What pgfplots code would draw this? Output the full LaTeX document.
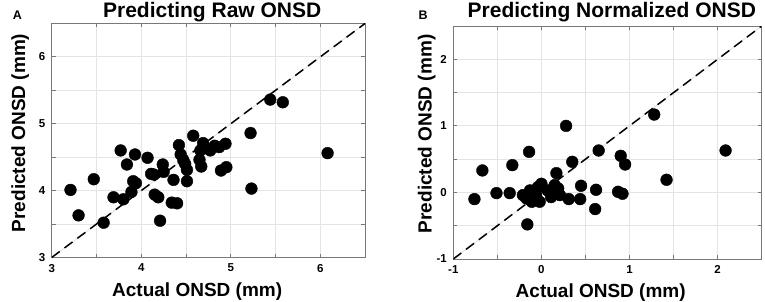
\documentclass[border=0pt]{standalone}
\usepackage{pgfplots}
\pgfplotsset{compat=1.18}
\usepackage{fontspec}
\setmainfont{Liberation Sans}
\definecolor{gridc}{RGB}{228,228,228}
\definecolor{axc}{RGB}{120,120,120}
\pgfplotsset{
  every axis title shift=0pt,
  myax/.style={
    scale only axis,
    axis line style={axc, line width=0.9pt},
    tick style={axc, line width=0.9pt},
    major tick length=4pt, minor tick length=4pt,
    grid=both,
    major grid style={gridc, line width=0.8pt},
    minor grid style={gridc, line width=0.8pt},
    /pgf/number format/assume math mode=true,
    ticklabel style={font=\fontsize{11.5}{13}\selectfont\bfseries},
    xticklabel style={yshift=-3pt},
    yticklabel style={xshift=-3pt},
    label style={font=\fontsize{19}{22}\selectfont\bfseries},
    title style={font=\fontsize{21}{24}\selectfont\bfseries, anchor=base, inner sep=0pt, yshift=0pt},
    clip=true,
  },
  dots/.style={only marks, mark=*, mark size=5.9pt, mark options={fill=black, draw=black}},
}
\begin{document}
\begin{tikzpicture}
\useasboundingbox (0pt,0pt) rectangle (765pt,-301pt);
\node[anchor=base west, inner sep=0pt, font=\fontsize{12.5}{14}\selectfont\bfseries] at (12.7pt,-19.3pt) {A};
\node[anchor=base west, inner sep=0pt, font=\fontsize{12.5}{14}\selectfont\bfseries] at (418.3pt,-19.3pt) {B};
\begin{axis}[myax,
  at={(51.7pt,-257.5pt)}, anchor=south west,
  width=313.5pt, height=234.2pt,
  xmin=3, xmax=6.5, ymin=3, ymax=6.5,
  xtick={3,4,5,6}, minor xtick={3.5,4.5,5.5},
  ytick={3,4,5,6}, minor ytick={3.5,4.5,5.5},
  title={Predicting Raw ONSD},
  title style={at={(axis description cs:0.512,1.0256)}},
  xlabel={Actual ONSD (mm)},
  ylabel={Predicted ONSD (mm)},
  xlabel style={at={(axis description cs:0.464,-0.1655)}, anchor=base, inner sep=0pt},
  ylabel style={at={(axis description cs:-0.085,0.532)}, anchor=base, inner sep=0pt},
]
\addplot[gray!30, line width=0.6pt] coordinates {(3,3) (6.5,6.5)};
\addplot[black, line width=1.5pt, dash pattern=on 10pt off 6pt] coordinates {(3,3) (6.5,6.5)};
\addplot[dots] coordinates {
(3.21,4.01) (3.30,3.63) (3.47,4.17) (3.58,3.52) (3.69,3.90) (3.77,4.60)
(3.80,3.87) (3.84,4.39) (3.89,3.98) (3.93,4.54) (3.91,4.14) (3.94,4.11)
(4.07,4.49) (4.11,4.25) (4.14,4.24) (4.15,3.94) (4.19,3.90) (4.24,4.39)
(4.25,4.28) (4.21,3.55) (4.36,4.16) (4.34,3.82) (4.40,3.81) (4.42,4.68)
(4.44,4.54) (4.47,4.45) (4.49,4.40) (4.51,4.31) (4.51,4.14) (4.58,4.82)
(4.65,4.46) (4.67,4.36) (4.69,4.71) (4.71,4.65) (4.66,4.60) (4.77,4.60)
(4.82,4.67) (4.87,4.65) (4.89,4.30) (4.94,4.70) (4.95,4.35) (5.22,4.86)
(5.23,4.03) (5.44,5.36) (5.58,5.32) (6.08,4.56)
};
\end{axis}
\begin{axis}[myax,
  at={(453.3pt,-259pt)}, anchor=south west,
  width=308.4pt, height=233pt,
  xmin=-1, xmax=2.5, ymin=-1, ymax=2.5,
  xtick={-1,0,1,2}, minor xtick={-0.5,0.5,1.5},
  ytick={-1,0,1,2}, minor ytick={-0.5,0.5,1.5},
  title={Predicting Normalized ONSD},
  title style={at={(axis description cs:0.514,1.037)}},
  xlabel={Actual ONSD (mm)},
  ylabel={Predicted ONSD (mm)},
  xlabel style={at={(axis description cs:0.478,-0.166)}, anchor=base, inner sep=0pt},
  ylabel style={at={(axis description cs:-0.070,0.537)}, anchor=base, inner sep=0pt},
]
\addplot[gray!30, line width=0.6pt] coordinates {(-1,-1) (2.5,2.5)};
\addplot[black, line width=1.5pt, dash pattern=on 10pt off 6pt] coordinates {(-1,-1) (2.5,2.5)};
\addplot[dots] coordinates {
(-0.76,-0.10) (-0.67,0.33) (-0.51,-0.01) (-0.36,-0.01) (-0.33,0.41) (-0.14,0.61)
(-0.16,-0.48) (-0.21,-0.04) (-0.17,-0.09) (-0.13,0.03) (-0.11,-0.14) (-0.06,-0.04)
(-0.04,0.08) (-0.02,-0.14) (0.00,0.13) (0.07,0.03) (0.11,-0.07) (0.15,0.11)
(0.19,0.06) (0.21,-0.04) (0.17,0.29) (0.28,1.00) (0.35,0.46) (0.31,-0.10)
(0.45,0.10) (0.44,-0.10) (0.62,0.04) (0.61,-0.25) (0.65,0.63) (0.90,0.55)
(0.95,0.42) (0.87,0.01) (0.92,-0.02) (1.28,1.17) (1.42,0.19) (2.09,0.63)
};
\end{axis}
\end{tikzpicture}
\end{document}
